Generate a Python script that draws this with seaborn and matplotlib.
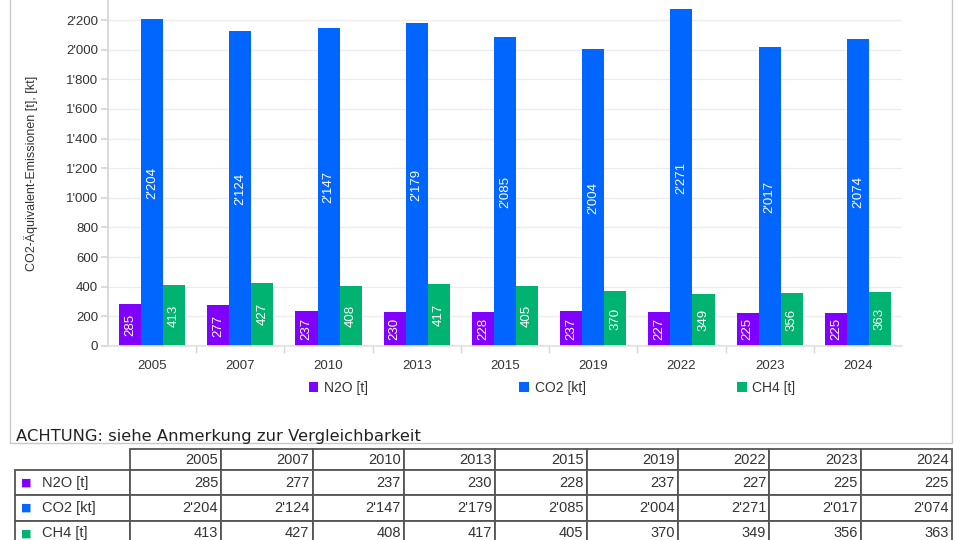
import matplotlib
matplotlib.use("Agg")
import numpy as np
import pandas as pd
import seaborn as sns
import matplotlib.pyplot as plt
from matplotlib.patches import Rectangle
from matplotlib.ticker import FuncFormatter

# ---- data ----
years = ['2005', '2007', '2010', '2013', '2015', '2019', '2022', '2023', '2024']
n2o = [285, 277, 237, 230, 228, 237, 227, 225, 225]
co2 = [2204, 2124, 2147, 2179, 2085, 2004, 2271, 2017, 2074]
ch4 = [413, 427, 408, 417, 405, 370, 349, 356, 363]
series = ['N2O [t]', 'CO2 [kt]', 'CH4 [t]']
colors = ['#8000ff', '#0066ff', '#00b371']
yticks = list(range(0, 2201, 200))
ylabel = 'CO2-Äquivalent-Emissionen [t], [kt]'
note = 'ACHTUNG: siehe Anmerkung zur Vergleichbarkeit'


def fmt(v):
    return f"{int(v):,}".replace(",", "'")


sns.set_theme(style='white')
plt.rcParams['font.family'] = ['Liberation Sans', 'DejaVu Sans']

fig = plt.figure(figsize=(9.6, 5.4), dpi=100)
W, H = 960, 540

# outer frame
fig.add_artist(Rectangle((10 / W, 1 - 443 / H), 942 / W, 443 / H + 0.05,
                         transform=fig.transFigure, fill=False,
                         edgecolor='#c8c8c8', lw=1.0))

ax = fig.add_axes([108 / W, 1 - 346 / H, 794 / W, 346 / H])
df = pd.DataFrame({
    'Jahr': years * 3,
    'Gas': sum([[s] * len(years) for s in series], []),
    'Wert': n2o + co2 + ch4,
})
sns.barplot(data=df, x='Jahr', y='Wert', hue='Gas', order=years,
            hue_order=series, palette=colors, width=0.75, saturation=1,
            errorbar=None, linewidth=0, ax=ax)

for cont, vals in zip(ax.containers, [n2o, co2, ch4]):
    ax.bar_label(cont, labels=[fmt(v) for v in vals], label_type='center',
                 rotation=90, color='white', fontsize=9.5)

ax.set_xlim(-0.5, len(years) - 0.5)
ax.set_ylim(0, 2335)
ax.set_yticks(yticks)
ax.yaxis.set_major_formatter(FuncFormatter(lambda v, p: fmt(v)))
ax.set_xticks(np.arange(0.5, len(years) - 1, 1), minor=True)
ax.set_axisbelow(True)
ax.yaxis.grid(True, color='#ececec', lw=0.9)
for s in ['top', 'right']:
    ax.spines[s].set_visible(False)
ax.spines['left'].set_color('#d6d6d6')
ax.spines['bottom'].set_color('#e2e2e2')
ax.tick_params(axis='y', left=True, length=5, color='#d6d6d6', pad=2,
               labelsize=9.5, labelcolor='#333333')
ax.tick_params(axis='x', which='major', bottom=False, length=0, pad=10,
               labelsize=9.5, labelcolor='#333333')
ax.tick_params(axis='x', which='minor', bottom=True, length=5, color='#d6d6d6')
ax.set_xlabel('')
ax.set_ylabel(ylabel, fontsize=9, color='#333333')
ax.yaxis.set_label_coords((38 - 108) / 794, 0.5)

handles, labels = ax.get_legend_handles_labels()
if ax.get_legend() is not None:
    ax.get_legend().remove()
fig.legend(handles, labels, loc='center', bbox_to_anchor=(552 / W, 1 - 388 / H),
           ncol=3, frameon=False, handlelength=0.7, handleheight=0.7,
           handletextpad=0.4, columnspacing=10.9, fontsize=10,
           labelcolor='#333333')

fig.text(16 / W, 1 - 436 / H, note, fontsize=11.8, family='DejaVu Sans',
         va='center', ha='left', color='#222222')

# ---- table ----
tax = fig.add_axes([15 / W, 1 - 546 / H, 937 / W, 97 / H])
tax.axis('off')
cell_text = [[''] + years,
             [series[0]] + [fmt(v) for v in n2o],
             [series[1]] + [fmt(v) for v in co2],
             [series[2]] + [fmt(v) for v in ch4]]
tbl = tax.table(cellText=cell_text, colWidths=[115] + [91.33] * len(years),
                cellLoc='right', bbox=[0, 0, 1, 1])
tbl.auto_set_font_size(False)
tbl.set_fontsize(10.5)
row_h = [21, 25.33, 25.33, 25.33]
for (r, c), cell in tbl.get_celld().items():
    cell.set_edgecolor('#555555')
    cell.set_linewidth(1.3)
    cell.set_height(row_h[r])
    cell.PAD = 0.035
    cell.get_text().set_color('#333333')
    if r == 0 and c == 0:
        cell.visible_edges = ''
    if c == 0 and r > 0:
        cell._loc = 'left'
        cell.get_text().set_horizontalalignment('left')
        cell.PAD = 27 / 115

tot = sum(row_h)
for i, col in enumerate(colors):
    yc = (tot - row_h[0] - (i + 0.5) * row_h[1]) / tot
    tax.text(11 / 937, yc, '■', color=col, fontsize=8, ha='center',
             va='center', family='DejaVu Sans', transform=tax.transAxes)

fig.savefig('out.png', dpi=100)
